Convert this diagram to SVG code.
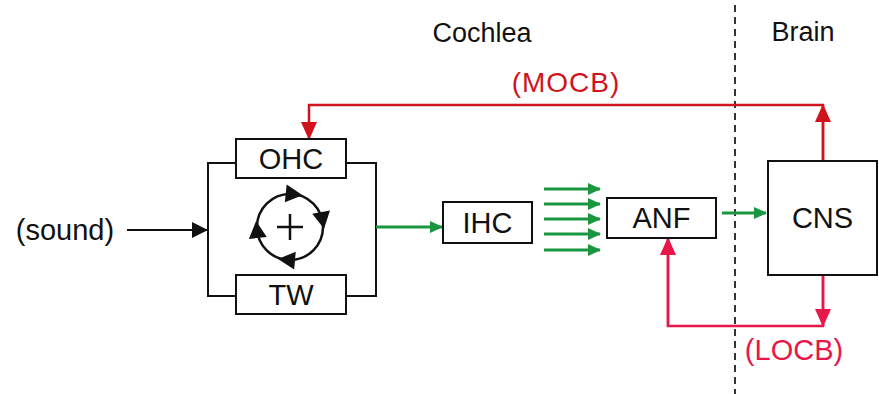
<svg xmlns="http://www.w3.org/2000/svg" width="879" height="394" viewBox="0 0 879 394">
<defs>
<style>
text{font-family:"Liberation Sans",Arial,sans-serif;}
.lbl{font-size:29px;fill:#111;text-anchor:middle;}
.box{fill:#fff;stroke:#111;stroke-width:2;}
.blk{fill:none;stroke:#111;stroke-width:2;}
.grn{fill:none;stroke:#1a9641;stroke-width:3;}
.moc{fill:none;stroke:#d0141e;stroke-width:2.5;}
.loc{fill:none;stroke:#e8174a;stroke-width:2.5;}
</style>
<marker id="ab" markerUnits="userSpaceOnUse" markerWidth="16" markerHeight="16" viewBox="0 0 16 16" refX="15" refY="8" orient="auto"><path d="M0,0 L16,8 L0,16 Z" fill="#111"/></marker>
<marker id="ag" markerUnits="userSpaceOnUse" markerWidth="13" markerHeight="12" viewBox="0 0 13 12" refX="12" refY="6" orient="auto"><path d="M0,0 L13,6 L0,12 Z" fill="#1a9641"/></marker>
<marker id="am" markerUnits="userSpaceOnUse" markerWidth="18" markerHeight="16" viewBox="0 0 18 16" refX="17" refY="8" orient="auto"><path d="M0,0 L18,8 L0,16 Z" fill="#d0141e"/></marker>
<marker id="al" markerUnits="userSpaceOnUse" markerWidth="18" markerHeight="16" viewBox="0 0 18 16" refX="17" refY="8" orient="auto"><path d="M0,0 L18,8 L0,16 Z" fill="#e8174a"/></marker>
<path id="tri" d="M9,0 L-8,-9 L-8,9 Z" fill="#111"/>
</defs>
<rect width="879" height="394" fill="#fff"/>
<line x1="735" y1="5" x2="735" y2="394" stroke="#333" stroke-width="2" stroke-dasharray="7,5"/>
<text x="482" y="42" font-size="27" fill="#111" text-anchor="middle">Cochlea</text>
<text x="803" y="41" font-size="27" fill="#111" text-anchor="middle">Brain</text>
<text x="566" y="92" font-size="28" fill="#d0141e" text-anchor="middle" letter-spacing="1">(MOCB)</text>
<text x="794" y="360" font-size="29" fill="#e8174a" text-anchor="middle">(LOCB)</text>
<text x="65" y="240" font-size="29" fill="#111" text-anchor="middle">(sound)</text>
<g id="connectors">
<line class="blk" x1="127" y1="230" x2="207" y2="230" stroke-width="2.5" marker-end="url(#ab)"/>
<path class="blk" d="M236,163 H208 V296 H236"/>
<path class="blk" d="M346,163 H376 V296 H346"/>
<line class="grn" x1="376" y1="227" x2="442" y2="227" marker-end="url(#ag)"/>
<line class="grn" x1="544" y1="189" x2="600" y2="189" marker-end="url(#ag)"/>
<line class="grn" x1="544" y1="204" x2="600" y2="204" marker-end="url(#ag)"/>
<line class="grn" x1="544" y1="219" x2="600" y2="219" marker-end="url(#ag)"/>
<line class="grn" x1="544" y1="234" x2="600" y2="234" marker-end="url(#ag)"/>
<line class="grn" x1="544" y1="250" x2="600" y2="250" marker-end="url(#ag)"/>
<line class="grn" x1="722" y1="213" x2="766" y2="213" marker-end="url(#ag)"/>
<path class="moc" d="M823,161 V105 H309 V139" marker-end="url(#am)"/>
<path class="moc" d="M823,161 V105" marker-end="url(#am)"/>
<path class="loc" d="M668,238 V326 H823 V275"/>
<path class="loc" d="M823,275 V326" marker-end="url(#al)"/>
<path class="loc" d="M668,326 V238" marker-end="url(#al)"/>
</g>
<g id="ohc"><rect class="box" x="236" y="139" width="110" height="39"/><text class="lbl" x="291" y="169">OHC</text></g>
<g id="tw"><rect class="box" x="236" y="275" width="110" height="39"/><text class="lbl" x="291" y="305">TW</text></g>
<g id="loop">
<circle cx="290" cy="227" r="33" fill="none" stroke="#111" stroke-width="2.5"/>
<line x1="277" y1="227" x2="303" y2="227" stroke="#111" stroke-width="2.5"/>
<line x1="290" y1="214" x2="290" y2="240" stroke="#111" stroke-width="2.5"/>
<use href="#tri" transform="translate(293.7,194.2) rotate(6)"/>
<use href="#tri" transform="translate(322.5,220) rotate(80)"/>
<use href="#tri" transform="translate(287,259.9) rotate(185)"/>
<use href="#tri" transform="translate(257,230) rotate(264)"/>
</g>
<g id="ihc"><rect class="box" x="443" y="202" width="89" height="41"/><text class="lbl" x="487.5" y="233">IHC</text></g>
<g id="anf"><rect class="box" x="607" y="198" width="109" height="40"/><text class="lbl" x="661.5" y="228">ANF</text></g>
<g id="cns"><rect class="box" x="768" y="161" width="109" height="114"/><text class="lbl" x="822.5" y="228">CNS</text></g>
</svg>
